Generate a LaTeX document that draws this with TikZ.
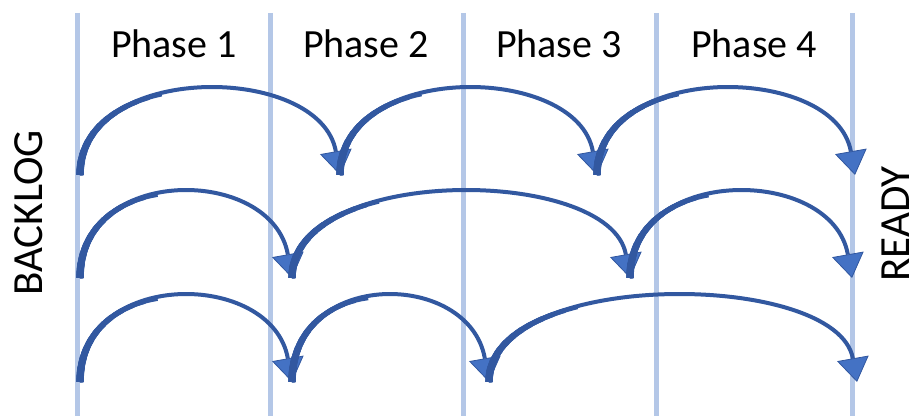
\documentclass[tikz,border=0pt]{standalone}
\usepackage{fontspec}
\setmainfont{Carlito}
\usepackage{tikz}
\usetikzlibrary{arrows.meta}
\definecolor{laneblue}{RGB}{180,199,231}
\definecolor{arcblue}{RGB}{50,88,160}
\definecolor{tipblue}{RGB}{68,114,196}
\tikzset{
    lane/.style={draw=laneblue, line width=5pt},
    jump/.style={draw=arcblue, line width=4pt, out=90, in=100, distance=114pt,
        -{Triangle[length=24pt, width=32pt, fill=tipblue, line width=0.8pt]}},
    jumpbase/.style={draw=arcblue, line width=#1, out=90, in=100, distance=114pt},
    phase/.style={font=\fontsize{40pt}{48pt}\selectfont, anchor=base, inner sep=0pt},
    side/.style={font=\fontsize{43pt}{50pt}\selectfont, rotate=90, inner sep=0pt}
}
\newcommand{\drawjump}[2]{%
    \foreach \w/\l in {7.5/15, 7.2/25, 6.9/35, 6.6/45, 6.3/55, 6/65, 5.7/75, 5.4/88, 5.1/100, 4.8/112, 4.4/125} {
        \draw[jumpbase=\w pt, dash pattern=on \l pt off 2000pt] (#1) to (#2);
    }
    \draw[jump] (#1) to (#2);
}

\begin{document}
\begin{tikzpicture}[x=1pt, y=1pt]
    \useasboundingbox (0,0) rectangle (917,416);

    % Draw lanes
    \foreach \x [count=\i] in {77,270,463,656,852} {
        \coordinate (top\i) at (\x, 403);
        \coordinate (bot\i) at (\x, 0);
        \draw[lane] (top\i) -- (bot\i);
    }

    % Phase labels
    \node[phase] (ph1) at (174, 359) {Phase 1};
    \node[phase] (ph2) at (366, 359) {Phase 2};
    \node[phase] (ph3) at (559, 359) {Phase 3};
    \node[phase] (ph4) at (754, 359) {Phase 4};

    \node[side] (backlog) at (29, 203) {BACKLOG};
    \node[side] (ready) at (896, 192) {READY};

    % Stops of each row
    \coordinate (r1a) at (80, 241);
    \coordinate (r1b) at (340, 241);
    \coordinate (r1c) at (597, 241);
    \coordinate (r1d) at (855, 241);

    \coordinate (r2a) at (80, 138);
    \coordinate (r2b) at (292, 138);
    \coordinate (r2c) at (630, 138);
    \coordinate (r2d) at (852, 138);

    \coordinate (r3a) at (80, 34);
    \coordinate (r3b) at (292, 34);
    \coordinate (r3c) at (489, 34);
    \coordinate (r3d) at (857, 34);

    % Draw jumps
    \drawjump{r1a}{r1b}
    \drawjump{r1b}{r1c}
    \drawjump{r1c}{r1d}

    \drawjump{r2a}{r2b}
    \drawjump{r2b}{r2c}
    \drawjump{r2c}{r2d}

    \drawjump{r3a}{r3b}
    \drawjump{r3b}{r3c}
    \drawjump{r3c}{r3d}
\end{tikzpicture}
\end{document}
